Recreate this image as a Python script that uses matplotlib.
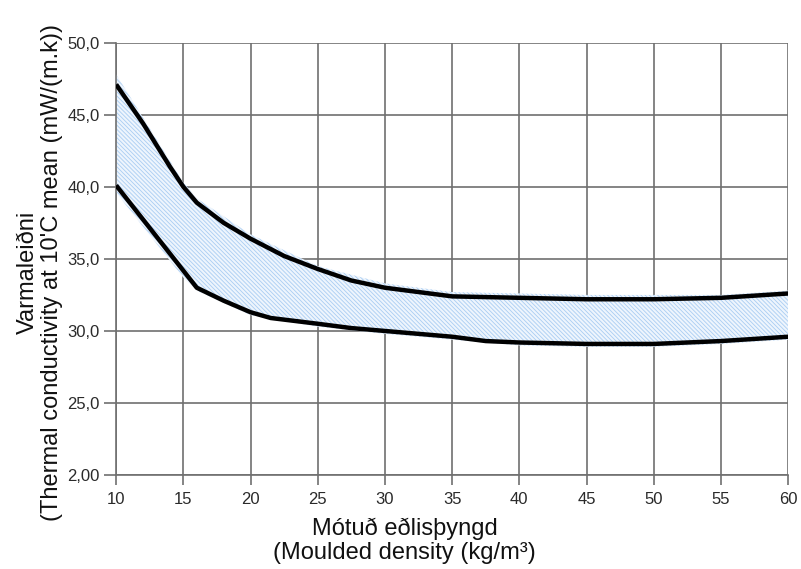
import numpy as np
from matplotlib import pyplot as plt

plt.rcParams['font.family'] = ['Liberation Sans', 'DejaVu Sans']
plt.rcParams['hatch.linewidth'] = 0.6

# upper and lower limit curves
upper_x = [10, 12, 14, 15, 16, 18, 20, 22.5, 25, 27.5, 30, 35, 40, 45, 50, 55, 60]
upper_y = [47.1, 44.4, 41.4, 40.0, 38.9, 37.5, 36.4, 35.2, 34.3, 33.5, 33.0, 32.4, 32.3, 32.2, 32.2, 32.3, 32.6]

lower_x = [10, 16, 18, 20, 21.5, 25, 27.5, 30, 35, 37.5, 40, 45, 50, 55, 60]
lower_y = [40.1, 33.0, 32.1, 31.3, 30.9, 30.5, 30.2, 30.0, 29.6, 29.3, 29.2, 29.1, 29.1, 29.3, 29.6]

# hatched band (slightly wider than the curves)
band_x = [10, 15, 16, 20, 25, 30, 35, 40, 45, 50, 55, 60]
band_top = [47.8, 40.3, 39.2, 36.7, 34.5, 33.3, 32.7, 32.6, 32.5, 32.5, 32.5, 32.8]
band_bot = [39.6, 33.7, 32.8, 31.1, 30.3, 29.8, 29.4, 29.0, 28.9, 28.9, 29.1, 29.4]

xticks = [10, 15, 20, 25, 30, 35, 40, 45, 50, 55, 60]
yticks = [20, 25, 30, 35, 40, 45, 50]
ytick_labels = ['2,00', '25,0', '30,0', '35,0', '40,0', '45,0', '50,0']

fig = plt.figure(figsize=(8.01, 5.69), dpi=100)
ax = fig.add_axes([0.145, 0.165, 0.839, 0.76])

ax.fill_between(band_x, band_bot, band_top, facecolor='#eef5fd',
                edgecolor='#a9cdf2', hatch='\\' * 8, linewidth=0, zorder=1)

ax.plot(upper_x, upper_y, color='black', lw=3.2, solid_capstyle='butt', zorder=3)
ax.plot(lower_x, lower_y, color='black', lw=3.2, solid_capstyle='butt', zorder=3)

ax.set_xlim(10, 60)
ax.set_ylim(20, 50)
ax.set_xticks(xticks)
ax.set_yticks(yticks)
ax.set_yticklabels(ytick_labels)
ax.grid(True, color='#707070', lw=1.2, zorder=0)
ax.set_axisbelow(True)
for s in ax.spines.values():
    s.set_color('#707070')
    s.set_linewidth(1.2)
ax.spines['top'].set_visible(False)
ax.spines['right'].set_visible(False)
ax.tick_params(axis='y', length=9, width=1.2, color='#707070', labelsize=12,
               labelcolor='#2a2a2a', pad=3)
ax.tick_params(axis='x', length=7, width=1.2, color='#707070', labelsize=12,
               labelcolor='#2a2a2a', pad=5)

ax.set_xlabel('Mótuð eðlisþyngd\n(Moulded density (kg/m³)', fontsize=17,
              linespacing=1.15, color='#111111')
ax.xaxis.set_label_coords(0.429, -0.098)
ax.set_ylabel('Varmaleiðni\n(Thermal conductivity at 10\'C mean (mW/(m.k))',
              fontsize=17, linespacing=1.15, color='#111111')
ax.yaxis.set_label_coords(-0.079, 0.468)

plt.savefig('out.png', dpi=100)
